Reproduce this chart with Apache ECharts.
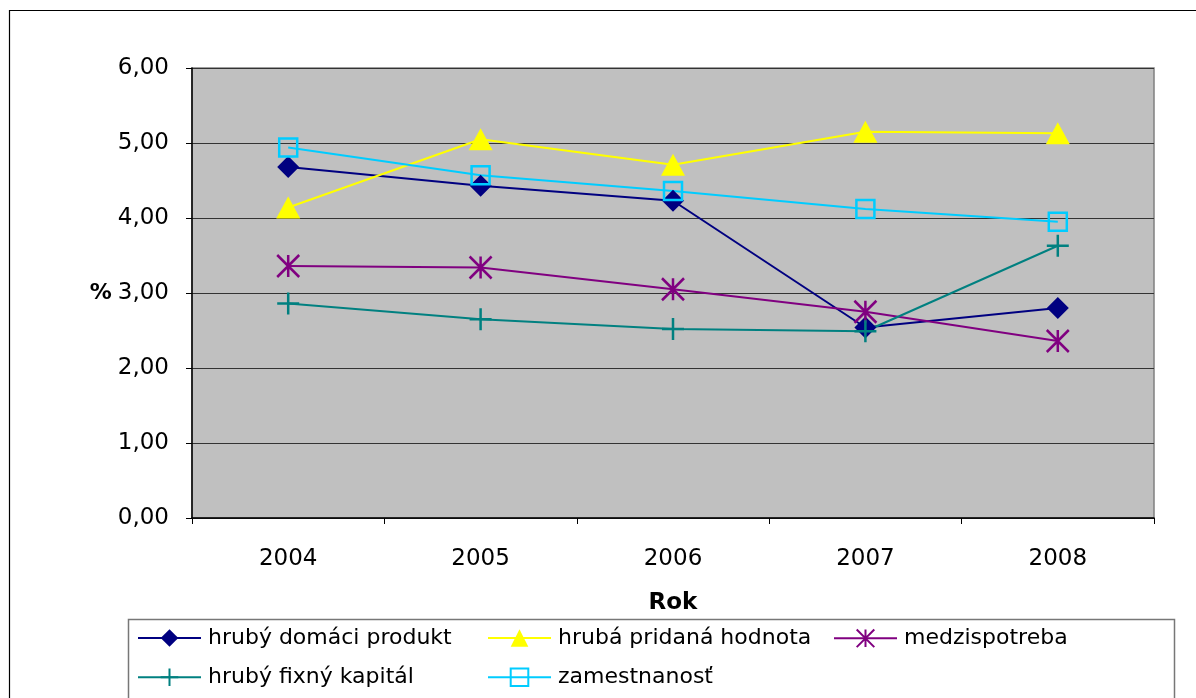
<!DOCTYPE html>
<html>
<head>
<meta charset="utf-8">
<script src="https://cdn.jsdelivr.net/npm/echarts@6/dist/echarts.min.js"></script>
<style>
html,body{margin:0;padding:0;background:#fff;}
#chart{width:1196px;height:698px;}
</style>
</head>
<body>
<div id="chart"></div>
<script>
var years = ['2004', '2005', '2006', '2007', '2008'];
var hdp = [4.68, 4.43, 4.23, 2.54, 2.80];
var hph = [4.14, 5.05, 4.71, 5.15, 5.13];
var medzi = [3.36, 3.34, 3.05, 2.75, 2.36];
var fixny = [2.86, 2.65, 2.52, 2.49, 3.63];
var zamest = [4.94, 4.57, 4.36, 4.12, 3.95];
var seriesNames = ['hrubý domáci produkt', 'hrubá pridaná hodnota', 'medzispotreba', 'hrubý fixný kapitál', 'zamestnanosť'];

var FONT = '"DejaVu Sans", "Liberation Sans", Arial, sans-serif';
var chart = echarts.init(document.getElementById('chart'), null, {renderer: 'canvas'});

var starPath = 'path://M0,0L10,10M10,0L0,10M5,0L5,10';
var plusPath = 'path://M0,5L10,5M5,0L5,10';

function legendAt(name, left, top) {
  return {
    data: [name], left: left, top: top, orient: 'horizontal',
    itemWidth: 63, itemHeight: 22, itemGap: 0, padding: 0,
    textStyle: {fontFamily: FONT, fontSize: 22, color: '#000', padding: [0, 0, 0, 2]},
    selectedMode: false
  };
}

var option = {
  backgroundColor: '#fff',
  animation: false,
  graphic: [
    {type: 'rect', shape: {x: 9.5, y: 10.5, width: 1300, height: 800}, style: {fill: 'none', stroke: '#000', lineWidth: 1.2}, silent: true, z: -10},
    {type: 'rect', shape: {x: 128.5, y: 619.5, width: 1046, height: 200}, style: {fill: 'none', stroke: '#777', lineWidth: 1.5}, silent: true, z: -10}
  ],
  grid: {left: 192, top: 68, right: 42, bottom: 180, show: true, backgroundColor: '#C0C0C0', borderColor: '#808080', borderWidth: 1.5},
  legend: [
    legendAt(seriesNames[0], 137, 627),
    legendAt(seriesNames[1], 487, 627),
    legendAt(seriesNames[2], 833, 627),
    legendAt(seriesNames[3], 137, 666),
    legendAt(seriesNames[4], 487, 666)
  ],
  xAxis: {
    type: 'category', data: years, boundaryGap: true,
    name: 'Rok', nameLocation: 'middle', nameGap: 74,
    nameTextStyle: {fontFamily: FONT, fontSize: 23, fontWeight: 'bold', color: '#000'},
    axisLine: {lineStyle: {color: '#000', width: 1.5}},
    axisTick: {show: true, length: 6, inside: false, alignWithLabel: false, lineStyle: {color: '#000'}},
    axisLabel: {fontFamily: FONT, fontSize: 23, color: '#000', margin: 30},
    splitLine: {show: false}
  },
  yAxis: {
    type: 'value', min: 0, max: 6, interval: 1,
    name: '%', nameLocation: 'middle', nameGap: 80, nameRotate: 0,
    nameTextStyle: {fontFamily: FONT, fontSize: 22, fontWeight: 'bold', color: '#000', padding: [10, 0, 0, 0]},
    axisLine: {show: true, lineStyle: {color: '#000', width: 1.5}},
    axisTick: {show: true, length: 6, lineStyle: {color: '#000'}},
    axisLabel: {fontFamily: FONT, fontSize: 23, color: '#000', margin: 23,
      formatter: function (v) { return v.toFixed(2).replace('.', ','); }},
    splitLine: {show: true, lineStyle: {color: '#333', width: 1.2}}
  },
  series: [
    {name: seriesNames[0], type: 'line', data: hdp, symbol: 'diamond', symbolSize: 22,
      lineStyle: {color: '#000080', width: 2}, itemStyle: {color: '#000080'}},
    {name: seriesNames[1], type: 'line', data: hph, symbol: 'triangle', symbolSize: [24, 22],
      lineStyle: {color: '#FFFF00', width: 2}, itemStyle: {color: '#FFFF00'}},
    {name: seriesNames[2], type: 'line', data: medzi, symbol: starPath, symbolSize: 22,
      lineStyle: {color: '#800080', width: 2}, itemStyle: {color: 'none', borderColor: '#800080', borderWidth: 2.5}},
    {name: seriesNames[3], type: 'line', data: fixny, symbol: plusPath, symbolSize: 22,
      lineStyle: {color: '#008080', width: 2}, itemStyle: {color: 'none', borderColor: '#008080', borderWidth: 2.5}},
    {name: seriesNames[4], type: 'line', data: zamest, symbol: 'rect', symbolSize: 18,
      lineStyle: {color: '#00CCFF', width: 2}, itemStyle: {color: 'none', borderColor: '#00CCFF', borderWidth: 2.5}}
  ]
};
chart.setOption(option);
</script>
</body>
</html>
